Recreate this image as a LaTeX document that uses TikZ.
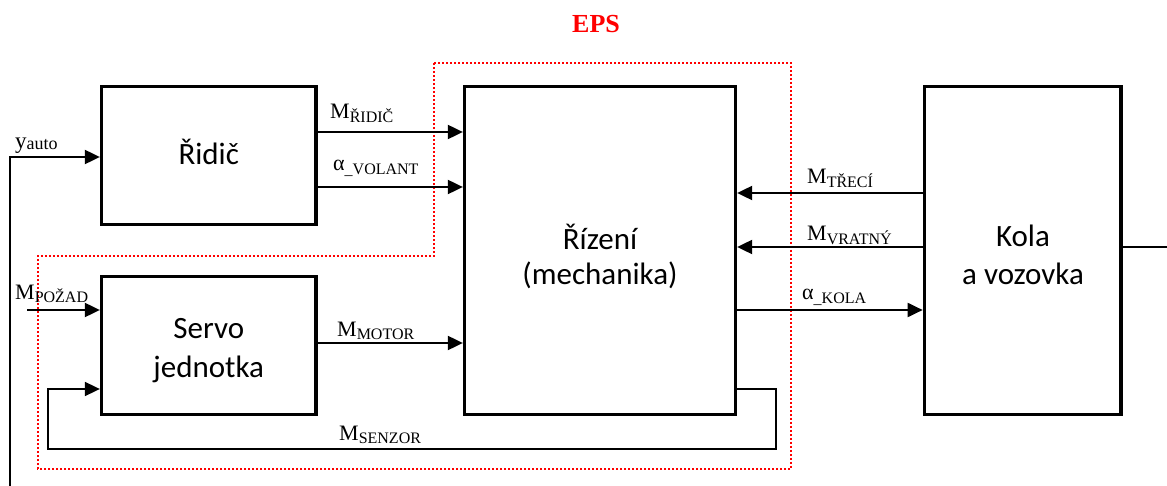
\documentclass[tikz,border=0pt]{standalone}
\usepackage{fontspec}
\setmainfont{Carlito}
\newfontfamily\tnr{Liberation Serif}
\usetikzlibrary{arrows.meta}
\newcommand{\mlab}[2]{{\tnr\fontsize{22}{24}\selectfont #1\raisebox{-3.5pt}{\fontsize{16}{18}\selectfont #2}}}
\newcommand{\ylab}[2]{{\tnr\fontsize{23}{24}\selectfont #1\raisebox{-0.5pt}{\fontsize{18}{18}\selectfont #2}}}
\begin{document}
\begin{tikzpicture}[x=1pt,y=-1pt,
  blk/.style={draw, line width=3.3pt, inner sep=0pt},
  bt/.style={anchor=base, inner sep=0pt, font=\fontsize{31}{36}\selectfont},
  lab/.style={anchor=base west, inner sep=0pt},
  arr/.style={-{Triangle[length=15pt,width=14pt]}, line width=2pt},
  ln/.style={line width=1.8pt},
  eps/.style={draw=red, line width=1.8pt, dash pattern=on 1.8pt off 2.2pt}]
\useasboundingbox (0,0) rectangle (1167,486);

% EPS region
\draw[eps] (434,63) -- (791,63) -- (791,469) -- (38,469) -- (38,256) -- (434,256) -- cycle;
\node[anchor=base west, inner sep=0pt, text=red, font=\tnr\bfseries\fontsize{26}{28}\selectfont] (epsl) at (572,33) {EPS};

% blocks
\node[blk, minimum width=214.5pt, minimum height=137.8pt] (ridic) at (208.75,155.4) {};
\node[blk, minimum width=214.5pt, minimum height=137.6pt] (servo) at (208.75,345.5) {};
\node[blk, minimum width=271pt, minimum height=327.8pt] (rizeni) at (600,250.4) {};
\node[blk, minimum width=196.7pt, minimum height=327.8pt] (kola) at (1022.65,250.4) {};

% block texts
\node[bt] (t1) at (208.75,165) {Řidič};
\node[bt] (t2a) at (208.75,338) {Servo};
\node[bt] (t2b) at (208.75,377) {jednotka};
\node[bt] (t3a) at (600,250) {Řízení};
\node[bt] (t3b) at (600,284) {(mechanika)};
\node[bt] (t4a) at (1023,247) {Kola};
\node[bt] (t4b) at (1023,285) {a vozovka};

% connectors
\coordinate (ybot) at (10,486);
\draw[arr] (ybot) |- (ridic.west |- 0,157);
\draw[arr] (ridic.east |- 0,132) -- (rizeni.west |- 0,132);
\draw[arr] (ridic.east |- 0,187) -- (rizeni.west |- 0,187);
\coordinate (pin) at (27,310);
\draw[arr] (pin) -- (servo.west |- pin);
\draw[arr] (servo.east |- 0,343) -- (rizeni.west |- 0,343);
\coordinate (fb1) at (776,449);
\coordinate (fb2) at (48,449);
\draw[arr, line width=1.8pt] (rizeni.east |- 0,389) -| (fb1) -- (fb2) |- (servo.west |- 0,389);
\draw[arr] (kola.west |- 0,193) -- (rizeni.east |- 0,193);
\draw[arr] (kola.west |- 0,247) -- (rizeni.east |- 0,247);
\draw[arr] (rizeni.east |- 0,310) -- (kola.west |- 0,310);
\coordinate (out) at (1167,247);
\draw[ln] (kola.east |- out) -- (out);

% labels
\node[lab] (lyauto) at (15,149) {\ylab{y}{auto}};
\node[lab] (lmridic) at (330,119) {\mlab{M}{ŘIDIČ}};
\node[lab] (lavol) at (333,171) {\mlab{α}{\_VOLANT}};
\node[lab] (lmpoz) at (15,299) {\mlab{M}{POŽAD}};
\node[lab] (lmmot) at (337,336) {\mlab{M}{MOTOR}};
\node[lab] (lmsen) at (339,440) {\mlab{M}{SENZOR}};
\node[lab] (lmtre) at (807,184) {\mlab{M}{TŘECÍ}};
\node[lab] (lmvra) at (807,241) {\mlab{M}{VRATNÝ}};
\node[lab] (lakol) at (802,300) {\mlab{α}{\_KOLA}};
\end{tikzpicture}
\end{document}
